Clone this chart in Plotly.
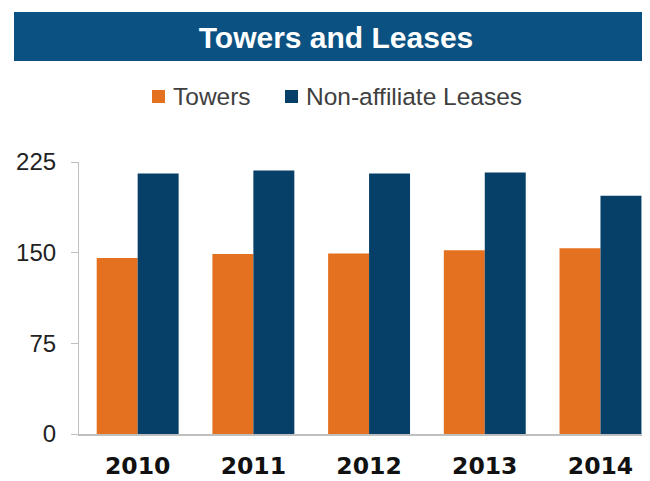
import plotly.graph_objects as go

years = ["2010", "2011", "2012", "2013", "2014"]
towers = [145.5, 148.8, 149.3, 152.1, 153.7]
leases = [215.4, 217.9, 215.4, 216.3, 197.0]
series_names = ["Towers", "Non-affiliate Leases"]
y_ticks = [0, 75, 150, 225]

ORANGE = "#E3711F"
NAVY = "#063F67"
BAR_BG = "#0B5181"

OFF = 8  # browser body margin
W, H = 650 - OFF, 481 - OFF
L, R, T, B = 79 - OFF, 650 - OFF, 162 - OFF, 434 - OFF  # plot area in figure px
pw, ph = R - L, B - T

def px_x(x):
    return (x - OFF - L) / pw

def px_y(y):
    return (B - (y - OFF)) / ph

fig = go.Figure()
fig.add_trace(go.Bar(x=years, y=towers, name=series_names[0], marker=dict(color=ORANGE, line=dict(width=0))))
fig.add_trace(go.Bar(x=years, y=leases, name=series_names[1], marker=dict(color=NAVY, line=dict(width=0))))

# title band
fig.add_shape(type="rect", xref="paper", yref="paper",
              x0=px_x(14), x1=px_x(660), y0=px_y(61), y1=px_y(12),
              fillcolor=BAR_BG, line=dict(width=0), layer="above")

# manual legend
legend_items = [(series_names[0], ORANGE, 152), (series_names[1], NAVY, 285)]
for name, col, sx in legend_items:
    fig.add_shape(type="rect", xref="paper", yref="paper",
                  x0=px_x(sx), x1=px_x(sx + 13), y0=px_y(103), y1=px_y(90),
                  fillcolor=col, line=dict(width=0))
    fig.add_annotation(text=name, xref="paper", yref="paper",
                       x=px_x(sx + 19), y=px_y(97), xanchor="left", yanchor="middle",
                       showarrow=False,
                       font=dict(family="Liberation Sans, Arial", size=24.5, color="#404040"))

fig.update_layout(
    width=W, height=H,
    margin=dict(l=L, r=W - R, t=T, b=H - B, pad=0, autoexpand=False),
    paper_bgcolor="white", plot_bgcolor="white",
    barmode="group", bargap=0.292, bargroupgap=0,
    title=dict(text="<b>Towers and Leases</b>", x=(336 - OFF) / W, y=1 - (37 - OFF) / H,
               xanchor="center", yanchor="middle",
               font=dict(family="Liberation Sans, Arial", size=30, color="white")),
    xaxis=dict(type="category", range=[-0.507, 4.428], showgrid=False, zeroline=False,
               showline=True, linecolor="#BFBFBF", linewidth=1.5, ticks="",
               tickfont=dict(family="Verdana, DejaVu Sans", size=23.5, color="#111111", weight="bold"),
               ticklabelstandoff=10, automargin=False),
    yaxis=dict(range=[0, 225], tickvals=y_ticks, showgrid=False, zeroline=False,
               showline=True, linecolor="#BFBFBF", linewidth=1.2, ticks="outside",
               ticklen=7, tickcolor="#BFBFBF", tickwidth=1.2,
               tickfont=dict(family="Liberation Sans, Arial", size=24, color="#222222"),
               ticklabelstandoff=10, automargin=False),
    showlegend=False,
)

fig.write_html("out.html")
